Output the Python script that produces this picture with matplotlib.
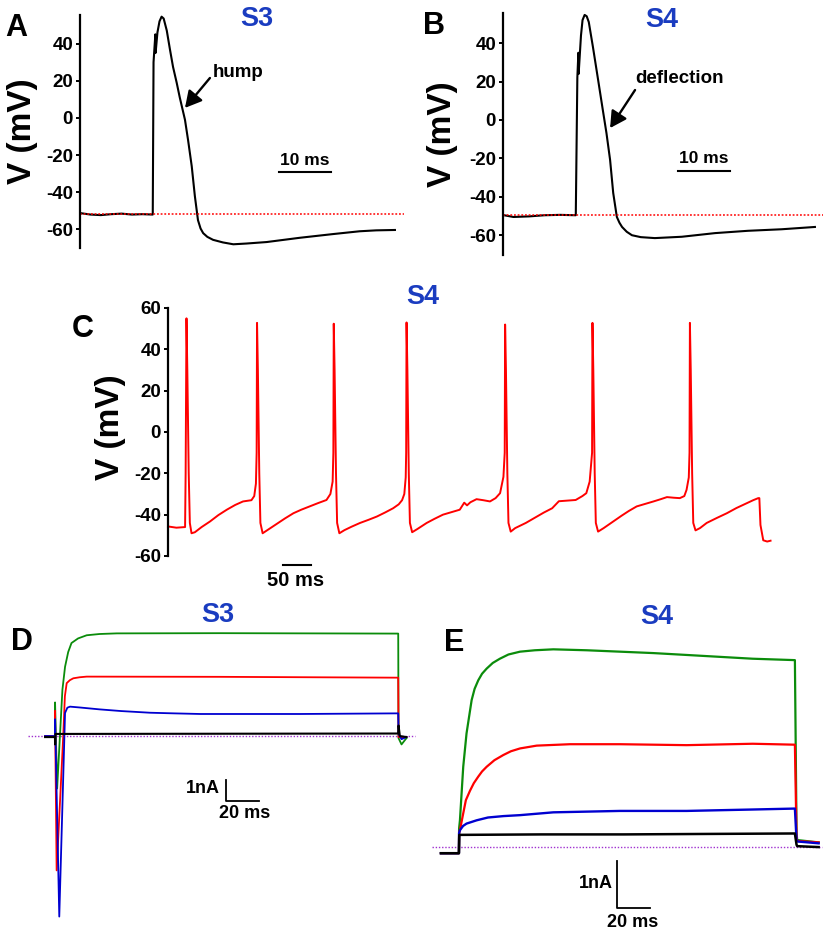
import matplotlib
matplotlib.use("Agg")
import matplotlib.pyplot as plt

plt.rcParams['font.family'] = ['Liberation Sans', 'DejaVu Sans']
plt.rcParams['font.weight'] = 'bold'
plt.rcParams['axes.unicode_minus'] = False

W, H = 834, 934
BLUE_TXT = '#1a3cc0'
GREEN = '#0b8c0b'
RED = '#ff0000'
BLUE = '#0000d0'
PURPLE = '#a030d0'

# ---- panel A (S3 action potential), t in ms, V in mV ----
tA = [0, 2, 4, 6, 8, 10, 12, 14.0, 14.15, 14.5, 14.55, 14.9, 15.3, 15.7, 16.1, 16.7, 17.3, 17.9,
      18.6, 19.2, 20.2, 20.8, 21.5, 22.1, 22.7, 23.2, 23.7, 24.5, 25.6, 27.5, 29.5, 32, 35.9,
      42.3, 48.7, 53.8, 57, 60.6]
vA = [-51.2, -52.0, -52.3, -51.8, -51.5, -52.0, -51.8, -52.0, 30, 45, 35, 46, 52, 54.5, 53.5, 47, 37, 27.5,
      19, 11, -1, -12, -26, -42, -55, -59.5, -62, -64, -65.6, -67, -68, -67.6, -66.8,
      -64.5, -62.5, -61, -60.5, -60.3]
restA = -51.6

# ---- panel B (S4 action potential) ----
tB = [0, 2, 5, 8, 11, 14.0, 14.3, 14.5, 14.55, 15.0, 15.3, 15.7, 16.1, 16.5, 17.3, 18.3, 19.2, 19.9,
      20.6, 21.2, 21.9, 22.4, 22.9, 23.8, 24.8, 26.5, 29.2, 34.4, 40.8, 47.1, 53.6, 60]
vB = [-49.5, -50.5, -50.2, -49.6, -49.4, -49.6, 22, 35, 24, 44, 52, 54.7, 54, 51, 38, 20.8, 5.2, -6.8,
      -20.8, -38, -50.5, -53.5, -55.7, -58.2, -60, -61, -61.5, -60.8, -58.9, -57.7, -56.9, -55.7]
restB = -49.5

yticks_AB = [40, 20, 0, -20, -40, -60]

# ---- panel C (S4 spike train) ----
tC = [0, 15, 29, 30.5, 31.5, 33, 34.5, 37, 39, 42, 48, 60, 75, 90, 105, 120, 134, 149, 154, 157, 158.3,
      159, 160.5, 163, 165, 169, 180, 194, 209, 224, 238, 253, 268, 283, 290, 294, 295.3,
      296, 297.5, 300, 302, 306, 315, 328, 343, 358, 373, 388, 402, 412, 418, 422, 424.5, 425.3,
      426, 427.5, 430, 432, 436, 445, 462, 476, 491, 506, 521, 529, 534, 540, 551, 563, 575, 585, 593, 599, 601.3,
      602, 603.5, 606, 608, 612, 620, 639, 655, 671, 686, 698, 713, 728, 740, 747, 753, 757.3,
      758, 759.5, 762, 764, 768, 778, 795, 810, 823, 837, 852, 867, 880, 891, 903, 914, 922, 926, 930, 931.3,
      932, 933.5, 936, 938, 942, 950, 962, 980, 998, 1015, 1033, 1045, 1054, 1056, 1058, 1063, 1070, 1076]
vC = [-45.7, -46.3, -46, -46, -20, 55, 30, -20, -44, -49, -48.5, -46, -43.3, -40.2, -37.6, -35.3, -33.6, -33, -31, -25, -10,
      52.8, 30, -20, -44, -49, -47, -44.5, -41.8, -39.3, -37.6, -36, -34.4, -32.9, -30, -24, -10,
      52.4, 30, -20, -44, -49, -47.5, -45.8, -44, -42.5, -40.9, -38.9, -36.9, -35, -33, -30, -22, -10,
      53, 30, -20, -44, -48.5, -47, -44, -42, -40, -38.8, -37.6, -34.2, -35.5, -34, -32.5, -33, -33.6, -32, -29.6, -21.7, -10,
      52, 30, -20, -44, -48.2, -46.5, -44, -41.5, -39, -36.9, -33.5, -33.2, -32.9, -31, -29.6, -24, -10,
      52.8, 30, -20, -44, -48.2, -46.5, -43.3, -40.5, -38.2, -36, -34.8, -33.6, -32.5, -31.5, -31.8, -32, -31, -28, -22, -10,
      52.8, 30, -20, -44, -47.6, -46.5, -44, -41.6, -39.3, -36.8, -34.5, -33, -32, -32, -45, -52.4, -53, -52.6]
yticks_C = [60, 40, 20, 0, -20, -40, -60]

# ---- panel D (S3 currents), t in ms, I in nA ----
tD_green = [-6, 0, 0.05, 0.4, 1.3, 3, 4.5, 6.1, 8, 10, 14, 19.2, 27, 37.4, 100, 208, 208.2, 210, 213]
iD_green = [0, 0, 1.6, 0.5, -2.5, 0, 2.2, 3.3, 4.0, 4.43, 4.65, 4.8, 4.86, 4.89, 4.9, 4.88, -0.1, -0.4, -0.1]
tD_red = [-6, 0, 0.05, 0.3, 1.0, 5.0, 6.0, 7.1, 9, 11.1, 15, 19.2, 100, 208, 208.2, 213]
iD_red = [0, 0, 1.2, -1, -6.4, 0, 1.9, 2.52, 2.66, 2.75, 2.8, 2.83, 2.82, 2.78, -0.05, -0.05]
tD_blue = [-6, 0, 0.05, 0.4, 2.6, 6.1, 7.5, 9.1, 15, 27, 40, 57.6, 72, 88, 148.5, 208, 208.2, 210, 213]
iD_blue = [0, 0, 0.8, -0.5, -8.6, 1.1, 1.35, 1.4, 1.36, 1.27, 1.19, 1.11, 1.08, 1.05, 1.05, 1.08, 0.1, -0.15, -0.05]
tD_black = [-6, 0, 0.05, 0.3, 1, 208, 208.2, 209, 213]
iD_black = [-0.05, -0.05, -0.4, 0.1, 0.1, 0.12, 0.5, 0, -0.05]

# ---- panel E (S4 currents) ----
tE_green = [-10.9, 0, 0.1, 0.6, 2.6, 4.6, 7.7, 9.5, 11.7, 14, 16.8, 20.5, 24.8, 30, 37, 46, 57.2, 77.4, 97.6, 117.8,
            138, 158, 178, 203.6, 204.6, 205, 218]
iE_green = [-0.13, -0.13, 0.4, 0.57, 1.71, 2.42, 3.13, 3.37, 3.55, 3.69, 3.8, 3.92, 4.01, 4.1, 4.16, 4.19, 4.21, 4.19, 4.16, 4.13,
            4.09, 4.05, 4.01, 3.98, 0.3, 0.15, 0.1]
tE_red = [-10.9, 0, 0.1, 0.6, 2.5, 4.2, 6.7, 9, 11.7, 14, 16.8, 21.5, 26.9, 31.5, 37, 47.1, 67.3, 97.6, 138, 178,
          203.6, 204.6, 205, 218]
iE_red = [-0.13, -0.13, 0.3, 0.36, 0.7, 1.0, 1.2, 1.36, 1.5, 1.61, 1.71, 1.85, 1.96, 2.04, 2.1, 2.16, 2.19, 2.19, 2.17, 2.2,
          2.18, 0.2, 0.13, 0.1]
tE_blue = [-10.9, 0, 0.1, 0.6, 2.5, 4.6, 10.7, 17.6, 27, 37, 57.2, 97.6, 138, 178, 203.6, 204.6, 205, 218]
iE_blue = [-0.13, -0.13, 0.3, 0.36, 0.45, 0.5, 0.57, 0.63, 0.66, 0.68, 0.74, 0.77, 0.77, 0.80, 0.82, 0.15, 0.12, 0.08]
tE_black = [-10.9, 0, 0.2, 50, 100, 150, 203.6, 204.6, 205, 218]
iE_black = [-0.13, -0.13, 0.26, 0.27, 0.27, 0.28, 0.29, 0.05, 0.02, 0.0]


def px_rect(x0, y0, x1, y1):
    return [x0 / W, 1 - y1 / H, (x1 - x0) / W, (y1 - y0) / H]


fig = plt.figure(figsize=(W / 100, H / 100), dpi=100)


def ftxt(x, y, s, **kw):
    fig.text(x / W, 1 - y / H, s, ha='center', va='center', fontweight='bold', **kw)


def trace_axes(rect, xlim, ylim, yticks):
    ax = fig.add_axes(rect)
    ax.set_xlim(xlim)
    ax.set_ylim(ylim)
    for s in ['top', 'right', 'bottom']:
        ax.spines[s].set_visible(False)
    ax.spines['left'].set_linewidth(1.6)
    ax.set_xticks([])
    ax.set_yticks(yticks)
    ax.tick_params(axis='y', length=3, width=1.4, pad=2, labelsize=13.5)
    for lab in ax.get_yticklabels():
        lab.set_fontweight('bold')
    ax.patch.set_alpha(0)
    return ax


arrow_style = dict(arrowstyle='-|>,head_length=0.55,head_width=0.3', lw=1.7, color='black',
                   mutation_scale=18, shrinkA=0, shrinkB=0)

# A
axA = trace_axes(px_rect(80, 15, 410, 248), (0, 63.5), (-70, 55.4), yticks_AB)
axA.plot(tA, vA, color='black', lw=1.5)
axA.plot([0, 62.3], [restA, restA], color=RED, lw=1.1, ls=(0, (1.2, 1.2)))
axA.plot([38.3, 48.3], [-29, -29], color='black', lw=1.5)
axA.text(43.3, -23.1, '10 ms', ha='center', va='center', fontsize=12.5, fontweight='bold')
axA.text(25.6, 24.7, 'hump', ha='left', va='center', fontsize=13.5, fontweight='bold')
axA.annotate('', xy=(20.2, 5.4), xytext=(25, 21.5), arrowprops=arrow_style)

# B
axB = trace_axes(px_rect(503, 13, 830, 255), (0, 62.9), (-70.3, 55.7), yticks_AB)
axB.plot(tB, vB, color='black', lw=1.5)
axB.plot([0, 61.5], [restB, restB], color=RED, lw=1.1, ls=(0, (1.2, 1.2)))
axB.plot([33.7, 43.7], [-26.6, -26.6], color='black', lw=1.5)
axB.text(38.7, -19.8, '10 ms', ha='center', va='center', fontsize=12.5, fontweight='bold')
axB.text(25.4, 21.4, 'deflection', ha='left', va='center', fontsize=13.5, fontweight='bold')
axB.annotate('', xy=(20.6, -4.2), xytext=(25.4, 15.6), arrowprops=arrow_style)

# C
axC = trace_axes(px_rect(168, 308, 800, 556), (0, 1128.6), (-60, 60), yticks_C)
axC.plot(tC, vC, color=RED, lw=1.4, clip_on=False)
axC.plot([205, 255], [-64.3, -64.3], color='black', lw=1.5, clip_on=False)
axC.text(228.6, -72, '50 ms', ha='center', va='center', fontsize=14.5, fontweight='bold')

# D
axD = fig.add_axes(px_rect(20, 600, 420, 930))
axD.axis('off')
axD.set_xlim(-21.2, 221.2)
axD.set_ylim(-9.24, 6.48)
axD.plot([-16.4, 218], [0, 0], color=PURPLE, lw=1, ls=(0, (1, 1.3)))
axD.plot(tD_green, iD_green, color=GREEN, lw=1.3)
axD.plot(tD_red, iD_red, color=RED, lw=1.3)
axD.plot(tD_blue, iD_blue, color=BLUE, lw=1.3)
axD.plot(tD_black, iD_black, color='black', lw=1.5)
axD.plot([103.6, 103.6, 123.6], [-2.1, -3.1, -3.1], color='black', lw=1.3)
axD.text(100, -2.52, '1nA', ha='right', va='center', fontsize=13, fontweight='bold')
axD.text(115, -3.67, '20 ms', ha='center', va='center', fontsize=13, fontweight='bold')

# E
axE = fig.add_axes(px_rect(420, 600, 834, 934))
axE.axis('off')
axE.set_xlim(-23.6, 227.3)
axE.set_ylim(-1.85, 5.26)
axE.plot([-16.4, 220], [0, 0], color=PURPLE, lw=1, ls=(0, (1, 1.3)))
axE.plot(tE_green, iE_green, color=GREEN, lw=1.6)
axE.plot(tE_red, iE_red, color=RED, lw=1.6)
axE.plot(tE_blue, iE_blue, color=BLUE, lw=1.7)
axE.plot(tE_black, iE_black, color='black', lw=1.8)
axE.plot([95.8, 95.8, 115.8], [-0.3, -1.3, -1.3], color='black', lw=1.3)
axE.text(93.3, -0.77, '1nA', ha='right', va='center', fontsize=13, fontweight='bold')
axE.text(105.5, -1.6, '20 ms', ha='center', va='center', fontsize=13, fontweight='bold')

# panel letters, titles, y labels
for x, y, s in [(16, 28, 'A'), (434, 26, 'B'), (83, 329, 'C'), (22, 642, 'D'), (454, 643, 'E')]:
    ftxt(x, y, s, fontsize=22)
for x, y, s in [(257, 19, 'S3'), (662, 20, 'S4'), (423, 297, 'S4'), (218, 615, 'S3'), (657, 617, 'S4')]:
    ftxt(x, y, s, fontsize=19.5, color=BLUE_TXT)
for x, y in [(22, 131), (443, 134), (110, 427)]:
    ftxt(x, y, 'V (mV)', fontsize=24, rotation=90)

fig.savefig('out.png', dpi=100)
